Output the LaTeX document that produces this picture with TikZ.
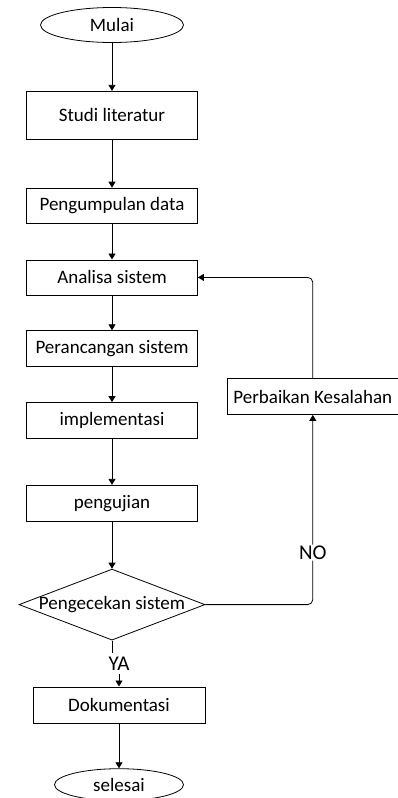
\documentclass[tikz,border=0pt]{standalone}
\usepackage{fontspec}
\setmainfont{Carlito}
\usetikzlibrary{shapes.geometric,positioning,arrows.meta}

\tikzset{
  box/.style={draw, line width=0.8pt, minimum width=171pt, minimum height=36pt, inner sep=2pt},
  terminal/.style={draw, ellipse, line width=0.8pt, inner sep=0pt},
  decision/.style={draw, diamond, aspect=2.62, inner sep=-3pt, minimum width=186pt, minimum height=71pt, line width=0.8pt},
  flow/.style={draw, line width=0.8pt, -{Triangle[length=6pt,width=7pt]}},
  answer/.style={font=\fontsize{21}{24}\selectfont}
}

\begin{document}
\begin{tikzpicture}[font=\fontsize{19}{22}\selectfont]
        \useasboundingbox (-112pt,25pt) rectangle (286pt,-773pt);
        \node[terminal, minimum width=143pt, minimum height=35pt] (mulai) {Mulai};
        \node[box, minimum height=48pt] (studi) [below = 48pt of mulai] {Studi literatur};
        \node[box, minimum height=35pt] (data) [below = 48pt of studi] {Pengumpulan data};
        \node[box, minimum height=35pt] (analisa) [below = 36pt of data] {Analisa sistem};
        \node[box] (rancang) [below = 35pt of analisa] {Perancangan sistem};
        \node[box] (impl) [below = 35pt of rancang] {implementasi};
        \node[box] (uji) [below = 46pt of impl] {pengujian};
        \node[decision] (cek) [below = 47pt of uji] {Pengecekan sistem};
        \node[answer, inner sep=4pt] (ya) [below = 12pt of cek, xshift=7pt] {YA};
        \node[box, minimum width=172pt] (dok) [below = 46pt of cek, xshift=7pt] {Dokumentasi};
        \node[terminal, minimum width=129pt, minimum height=32pt] (selesai) [below = 45pt of dok] {selesai};
        \node[box] (perb) [right = 29pt of impl, yshift=24pt] {Perbaikan Kesalahan};
        \path (mulai) edge[flow] (studi);
        \path (studi) edge[flow] (data);
        \path (data) edge[flow] (analisa);
        \path (analisa) edge[flow] (rancang);
        \path (rancang) edge[flow] (impl);
        \path (impl) edge[flow] (uji);
        \path (uji) edge[flow] (cek);
        \draw[line width=0.8pt] (cek.south) -- (cek.south |- ya.north);
        \path (ya) edge[flow] (dok);
        \path (dok) edge[flow] (selesai);
        \draw[flow, rounded corners=5pt] (cek.east) -| node[answer, pos=0.637, fill=white, inner sep=1pt] {NO} (perb.south);
        \draw[flow, rounded corners=5pt] (perb.north) |- (analisa.east);
    \end{tikzpicture}
\end{document}
